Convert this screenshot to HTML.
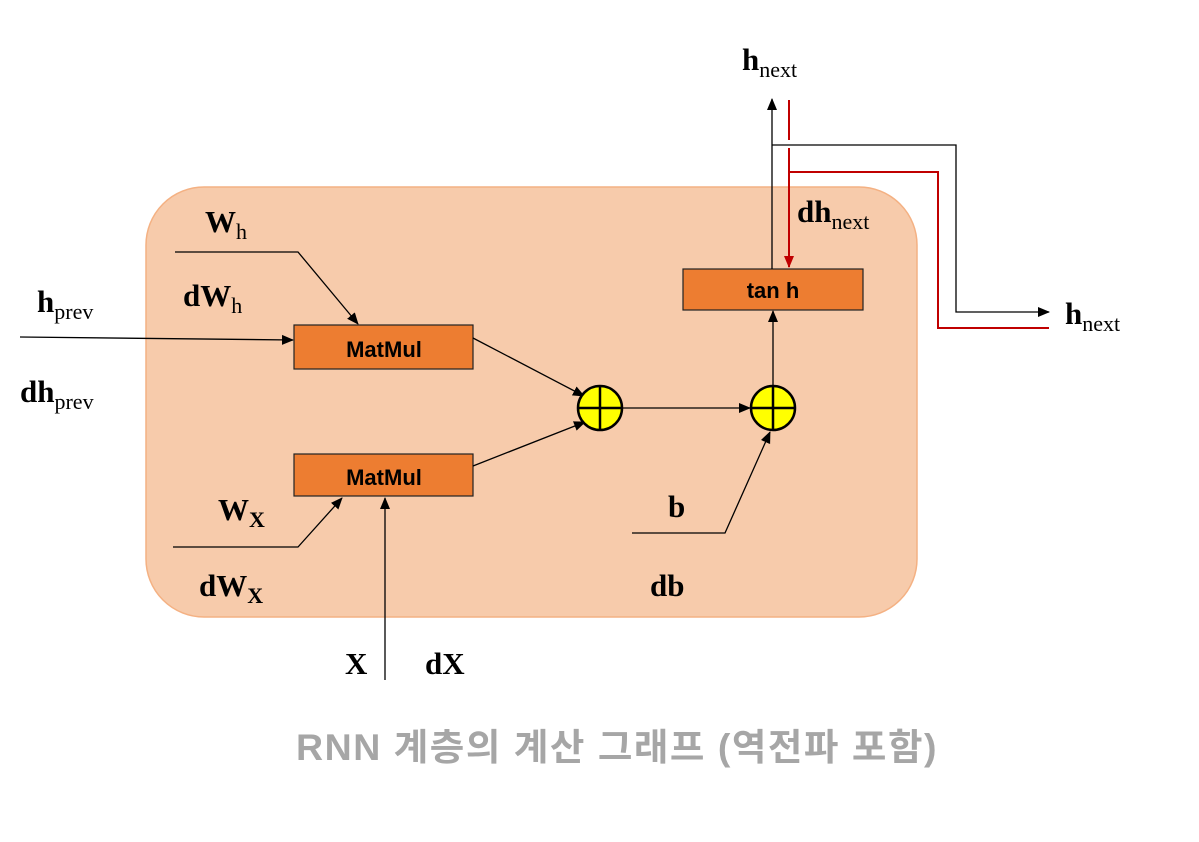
<!DOCTYPE html>
<html><head><meta charset="utf-8"><style>
html,body{margin:0;padding:0;background:#fff;}
svg{display:block;}
.s{font-family:"Liberation Serif",serif;font-weight:bold;fill:#000;}
.sub{font-weight:normal;}
.m{font-family:"Liberation Sans","Noto Sans CJK KR",sans-serif;font-weight:bold;font-size:22px;fill:#000;}
</style></head><body>
<svg width="1199" height="842" viewBox="0 0 1199 842" xmlns="http://www.w3.org/2000/svg">
<defs>
<marker id="a" markerWidth="12" markerHeight="12" refX="11" refY="6" orient="auto" markerUnits="userSpaceOnUse"><path d="M0,1 L12,6 L0,11 z" fill="#000"/></marker>
<marker id="r" markerWidth="12" markerHeight="12" refX="11" refY="6" orient="auto" markerUnits="userSpaceOnUse"><path d="M0,1 L12,6 L0,11 z" fill="#c00000"/></marker>
</defs>
<rect x="146" y="187" width="771" height="430" rx="58" fill="#f7cbab" stroke="#f4b183" stroke-width="1.5"/>
<rect x="294" y="325" width="179" height="44" fill="#ed7d31" stroke="#222" stroke-width="1.2"/>
<text x="384" y="357" class="m" text-anchor="middle">MatMul</text>
<rect x="294" y="454" width="179" height="42" fill="#ed7d31" stroke="#222" stroke-width="1.2"/>
<text x="384" y="485" class="m" text-anchor="middle">MatMul</text>
<rect x="683" y="269" width="180" height="41" fill="#ed7d31" stroke="#222" stroke-width="1.2"/>
<text x="773" y="298" class="m" text-anchor="middle" font-size="20">tan h</text>
<g stroke="#000" stroke-width="1.3" fill="none">
<path d="M20,337 L293,340" marker-end="url(#a)"/>
<path d="M175,252 L298,252 L358,324" marker-end="url(#a)"/>
<path d="M173,547 L298,547 L342,498" marker-end="url(#a)"/>
<path d="M385,680 L385,498" marker-end="url(#a)"/>
<path d="M473,338 L584,396" marker-end="url(#a)"/>
<path d="M473,466 L585,422" marker-end="url(#a)"/>
<path d="M622,408 L750,408" marker-end="url(#a)"/>
<path d="M632,533 L725,533 L770,432" marker-end="url(#a)"/>
<path d="M773,386 L773,311" marker-end="url(#a)"/>
<path d="M772,269 L772,99" marker-end="url(#a)"/>
<path d="M772,145 L956,145 L956,312 L1049,312" marker-end="url(#a)"/>
</g>
<g stroke="#c00000" stroke-width="2" fill="none">
<path d="M789,100 L789,140"/>
<path d="M789,148 L789,267" marker-end="url(#r)"/>
<path d="M789,172 L938,172 L938,328 L1049,328"/>
</g>
<g stroke="#000" stroke-width="2.5">
<circle cx="600" cy="408" r="22" fill="#ffff00"/>
<line x1="578" y1="408" x2="622" y2="408"/><line x1="600" y1="386" x2="600" y2="430"/>
<circle cx="773" cy="408" r="22" fill="#ffff00"/>
<line x1="751" y1="408" x2="795" y2="408"/><line x1="773" y1="386" x2="773" y2="430"/>
</g>
<g class="s" font-size="31">
<text x="742" y="70">h<tspan class="sub" font-size="22" dy="7">next</tspan></text>
<text x="797" y="222">dh<tspan class="sub" font-size="22" dy="7">next</tspan></text>
<text x="1065" y="324">h<tspan class="sub" font-size="22" dy="7">next</tspan></text>
<text x="37" y="312">h<tspan class="sub" font-size="22" dy="7">prev</tspan></text>
<text x="20" y="402">dh<tspan class="sub" font-size="22" dy="7">prev</tspan></text>
<text x="205" y="232">W<tspan class="sub" font-size="22" dy="7">h</tspan></text>
<text x="183" y="306">dW<tspan class="sub" font-size="22" dy="7">h</tspan></text>
<text x="218" y="520">W<tspan font-size="22" dy="7">X</tspan></text>
<text x="199" y="596">dW<tspan font-size="22" dy="7">X</tspan></text>
<text x="668" y="517">b</text>
<text x="650" y="596">db</text>
<text x="345" y="674">X</text>
<text x="425" y="674">dX</text>
</g>
<text x="617" y="760" text-anchor="middle" font-family="'Liberation Sans','Noto Sans CJK KR',sans-serif" font-weight="bold" font-size="37" letter-spacing="1.5" fill="#a6a6a6" textLength="642" lengthAdjust="spacingAndGlyphs">RNN 계층의 계산 그래프 (역전파 포함)</text>
</svg>
</body></html>
